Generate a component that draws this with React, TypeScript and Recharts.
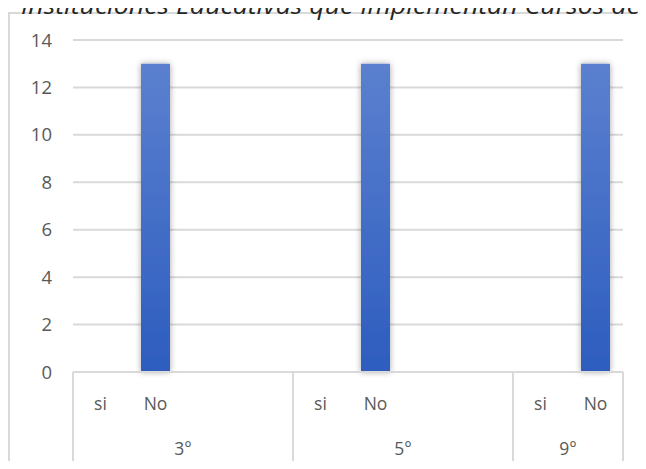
import { Bar, BarChart, CartesianGrid, XAxis, YAxis } from "recharts";

const groups = ["3°", "5°", "9°"];
const groupSlots = [
  ["si", "No", "", ""],
  ["si", "No", "", ""],
  ["si", "No"],
];
const siValues = [0, 0, 0];
const noValues = [13, 13, 13];
const yTicks = [0, 2, 4, 6, 8, 10, 12, 14];

const titleText = "Instituciones Educativas que Implementan Cursos de";

type SlotRow = {
  key: string;
  sub: string;
  group: string;
  value: number | null;
  groupStart: boolean;
  groupMid: boolean;
  last: boolean;
};

function buildRows(): SlotRow[] {
  const rows: SlotRow[] = [];
  groups.forEach((group, g) => {
    const slots = groupSlots[g];
    slots.forEach((sub, i) => {
      let value: number | null = null;
      if (sub === "si") value = siValues[g] || null;
      if (sub === "No") value = noValues[g];
      rows.push({
        key: `${g}-${i}`,
        sub,
        group,
        value,
        groupStart: i === 0,
        groupMid: i === slots.length / 2 - 1,
        last: g === groups.length - 1 && i === slots.length - 1,
      });
    });
  });
  return rows;
}

const rows = buildRows();

const FONT = "'Open Sans', 'Noto Sans', sans-serif";
const LABEL = "#595959";
const LINE = "#d9d9d9";

function SlotTick(props: any) {
  const { x, y, index, payload } = props;
  const row = rows[index];
  if (!row) return null;
  const half = payload?.offset ?? 27.5;
  return (
    <g>
      {row.groupStart && <line x1={x - half} x2={x - half} y1={y} y2={y + 140} stroke={LINE} strokeWidth={2} />}
      {row.last && <line x1={x + half} x2={x + half} y1={y} y2={y + 140} stroke={LINE} strokeWidth={2} />}
      <text x={x} y={y + 38} textAnchor="middle" fill={LABEL} fontSize={17.5} fontFamily={FONT}>
        {row.sub}
      </text>
      {row.groupMid && (
        <text x={x + half} y={y + 83} textAnchor="middle" fill={LABEL} fontSize={17.5} fontFamily={FONT}>
          {row.group}
        </text>
      )}
    </g>
  );
}

export default function App() {
  return (
    <div style={{ position: "relative", width: 646, height: 469, margin: -8, overflow: "hidden", background: "#fff" }}>
      <div
        style={{
          position: "absolute",
          left: 8,
          top: 12,
          width: 720,
          height: 520,
          border: "2px solid #d9d9d9",
          boxSizing: "border-box",
        }}
      />
      <svg width={646} height={30} style={{ position: "absolute", left: 0, top: 0 }}>
        <text
          x={21}
          y={14}
          textLength={619}
          lengthAdjust="spacingAndGlyphs"
          fontSize={23}
          fontStyle="italic"
          fontFamily={FONT}
          fill="#262626"
        >
          {titleText}
        </text>
      </svg>
      <div style={{ position: "absolute", left: 0, top: 0 }}>
        <BarChart width={646} height={520} data={rows} margin={{ top: 40, right: 23, bottom: 48, left: 0 }} barSize={29}>
          <defs>
            <linearGradient id="noFill" x1="0" y1="0" x2="0" y2="1">
              <stop offset="0%" stopColor="#5b80cf" />
              <stop offset="100%" stopColor="#2d5dbf" />
            </linearGradient>
            <filter id="barShadow" x="-30%" y="-5%" width="160%" height="110%">
              <feDropShadow dx={0} dy={0} stdDeviation={3} floodColor="#000" floodOpacity={0.35} />
            </filter>
          </defs>
          <CartesianGrid stroke={LINE} strokeWidth={2} vertical={false} />
          <XAxis
            dataKey="key"
            interval={0}
            height={100}
            tickSize={0}
            tickMargin={0}
            axisLine={{ stroke: LINE, strokeWidth: 2 }}
            tickLine={false}
            tick={<SlotTick />}
          />
          <YAxis
            width={73}
            domain={[0, 14]}
            ticks={yTicks}
            interval={0}
            axisLine={false}
            tickLine={false}
            tickSize={0}
            tickMargin={21}
            tick={{ fill: LABEL, fontSize: 18.5, fontFamily: FONT }}
          />
          <Bar dataKey="value" fill="url(#noFill)" filter="url(#barShadow)" isAnimationActive={false} />
        </BarChart>
      </div>
    </div>
  );
}
